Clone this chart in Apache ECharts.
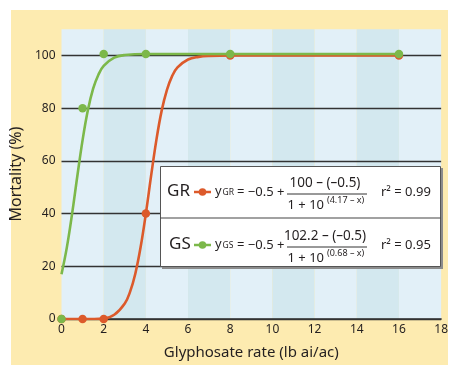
<!DOCTYPE html>
<html><head><meta charset="utf-8">
<script src="https://cdn.jsdelivr.net/npm/echarts@6/dist/echarts.min.js"></script>
<style>html,body{margin:0;padding:0;background:#fff}#c{width:451px;height:365px}</style>
</head><body><div id="c"></div>
<script>
// Observed data points
const grObsX = [0, 1, 2, 4, 8, 16];
const grObsY = [0, 0, 0, 40, 100, 100];
const gsObsX = [0, 1, 2, 4, 8, 16];
const gsObsY = [0, 80, 100.6, 100.6, 100.6, 100.6];
// Fitted curves
const grFitX = [0, 1, 2, 2.5, 3, 3.25, 3.5, 3.75, 4, 4.25, 4.5, 4.75, 5, 5.25, 5.5, 6, 6.5, 7, 8, 16];
const grFitY = [0, 0, 0.2, 1.6, 5.9, 10.3, 17.2, 27.2, 40, 54.4, 68, 79.1, 87, 92.3, 95.5, 98.5, 99.5, 99.85, 100, 100];
const gsFitX = [0, 0.25, 0.5, 0.75, 1, 1.25, 1.5, 1.75, 2, 2.5, 3, 4, 8, 16];
const gsFitY = [17, 27, 39.8, 54.2, 67.9, 79.2, 87.4, 92.7, 96.1, 99.2, 100.2, 100.6, 100.6, 100.6];
const xTickInterval = 2;
const yTickInterval = 20;

const RED = '#dc5a2b', GREEN = '#7cb84a', TXT = '#231f20';
const FONT = 'Noto Sans';
const zip = (xs, ys) => xs.map((x, i) => [x, ys[i]]);

const chart = echarts.init(document.getElementById('c'), null, {renderer: 'canvas'});
const g = [];
// background
g.push({type: 'rect', z: -10, shape: {x: 11, y: 10, width: 437, height: 355}, style: {fill: '#fdebb0'}});
// legend box
g.push({type: 'rect', z: 50, shape: {x: 162, y: 168, width: 281, height: 101}, style: {fill: '#8c8c8c'}});
g.push({type: 'rect', z: 51, shape: {x: 160.5, y: 166.5, width: 280, height: 100}, style: {fill: '#fff', stroke: '#555', lineWidth: 1}});
g.push({type: 'line', z: 52, shape: {x1: 160.5, y1: 218, x2: 440.5, y2: 218}, style: {stroke: '#444', lineWidth: 1.2}});
function row(label, color, sub, num, exp, r2, cy, labelX) {
  g.push({type: 'text', z: 53, x: labelX, y: cy - 1, style: {text: label, font: '17px ' + FONT, fill: TXT, verticalAlign: 'middle'}});
  g.push({type: 'line', z: 53, shape: {x1: 194, y1: cy, x2: 211, y2: cy}, style: {stroke: color, lineWidth: 2.5}});
  g.push({type: 'circle', z: 54, shape: {cx: 202.5, cy: cy, r: 3.8}, style: {fill: color}});
  g.push({type: 'text', z: 53, x: 215, y: cy - 1, style: {text: 'y', font: '13px ' + FONT, fill: TXT, verticalAlign: 'middle'}});
  g.push({type: 'text', z: 53, x: 222.5, y: cy + 1, style: {text: sub, font: '8.5px ' + FONT, fill: TXT, verticalAlign: 'middle'}});
  g.push({type: 'text', z: 53, x: 237, y: cy, style: {text: '= \u22120.5 +', font: '13px ' + FONT, fill: TXT, verticalAlign: 'middle'}});
  g.push({type: 'text', z: 53, x: 325, y: cy - 9, style: {text: num, font: '13.5px ' + FONT, fill: TXT, align: 'center', verticalAlign: 'middle'}});
  g.push({type: 'line', z: 53, shape: {x1: 287, y1: cy + 2, x2: 367, y2: cy + 2}, style: {stroke: '#333', lineWidth: 1}});
  g.push({type: 'text', z: 53, x: 324, y: cy + 13, style: {text: '1 + 10', font: '13px ' + FONT, fill: TXT, align: 'right', verticalAlign: 'middle'}});
  g.push({type: 'text', z: 53, x: 327, y: cy + 8, style: {text: exp, font: '9px ' + FONT, fill: TXT, verticalAlign: 'middle'}});
  g.push({type: 'text', z: 53, x: 381, y: cy, style: {text: r2, font: '13px ' + FONT, fill: TXT, verticalAlign: 'middle'}});
}
row('GR', RED, 'GR', '100 \u2013 (\u20130.5)', '(4.17 \u2013 x)', 'r\u00b2 = 0.99', 192, 167);
row('GS', GREEN, 'GS', '102.2 \u2013 (\u20130.5)', '(0.68 \u2013 x)', 'r\u00b2 = 0.95', 245, 169);

chart.setOption({
  animation: false,
  backgroundColor: '#fff',
  textStyle: {fontFamily: FONT},
  grid: {left: 61, right: 4, top: 29.2, bottom: 41, containLabel: false},
  xAxis: {
    type: 'value', min: 0, max: 18, interval: xTickInterval, z: 0,
    name: 'Glyphosate rate (lb ai/ac)', nameLocation: 'middle', nameGap: 26,
    nameTextStyle: {fontSize: 15, color: TXT, fontFamily: FONT},
    axisLine: {show: true, lineStyle: {color: '#333', width: 1.5}},
    axisTick: {show: false},
    axisLabel: {fontSize: 12, color: TXT, margin: 5, fontFamily: FONT},
    splitLine: {show: false},
    splitArea: {show: true, areaStyle: {color: ['#e2f0f8', '#d3e8ef']}}
  },
  yAxis: {
    type: 'value', min: 0, max: 110, interval: yTickInterval, z: 1,
    name: 'Mortality (%)', nameLocation: 'middle', nameGap: 24,
    nameTextStyle: {fontSize: 16, color: TXT, fontFamily: FONT},
    axisLine: {show: false},
    axisTick: {show: false},
    axisLabel: {fontSize: 12, color: TXT, margin: 6, showMaxLabel: false, fontFamily: FONT},
    splitLine: {show: true, showMaxLine: false, lineStyle: {color: '#333', width: 1.3}}
  },
  graphic: g,
  series: [
    {type: 'line', data: zip(grFitX, grFitY), smooth: 0.4, showSymbol: false, lineStyle: {color: RED, width: 2.6}, z: 3},
    {type: 'line', data: zip(gsFitX, gsFitY), smooth: 0.4, showSymbol: false, lineStyle: {color: GREEN, width: 2.6}, z: 4},
    {type: 'scatter', data: zip(grObsX, grObsY), symbolSize: 8.5, itemStyle: {color: RED, opacity: 1}, z: 5},
    {type: 'scatter', data: zip(gsObsX, gsObsY), symbolSize: 8.5, itemStyle: {color: GREEN, opacity: 1}, z: 6}
  ]
});
</script>
</body></html>
